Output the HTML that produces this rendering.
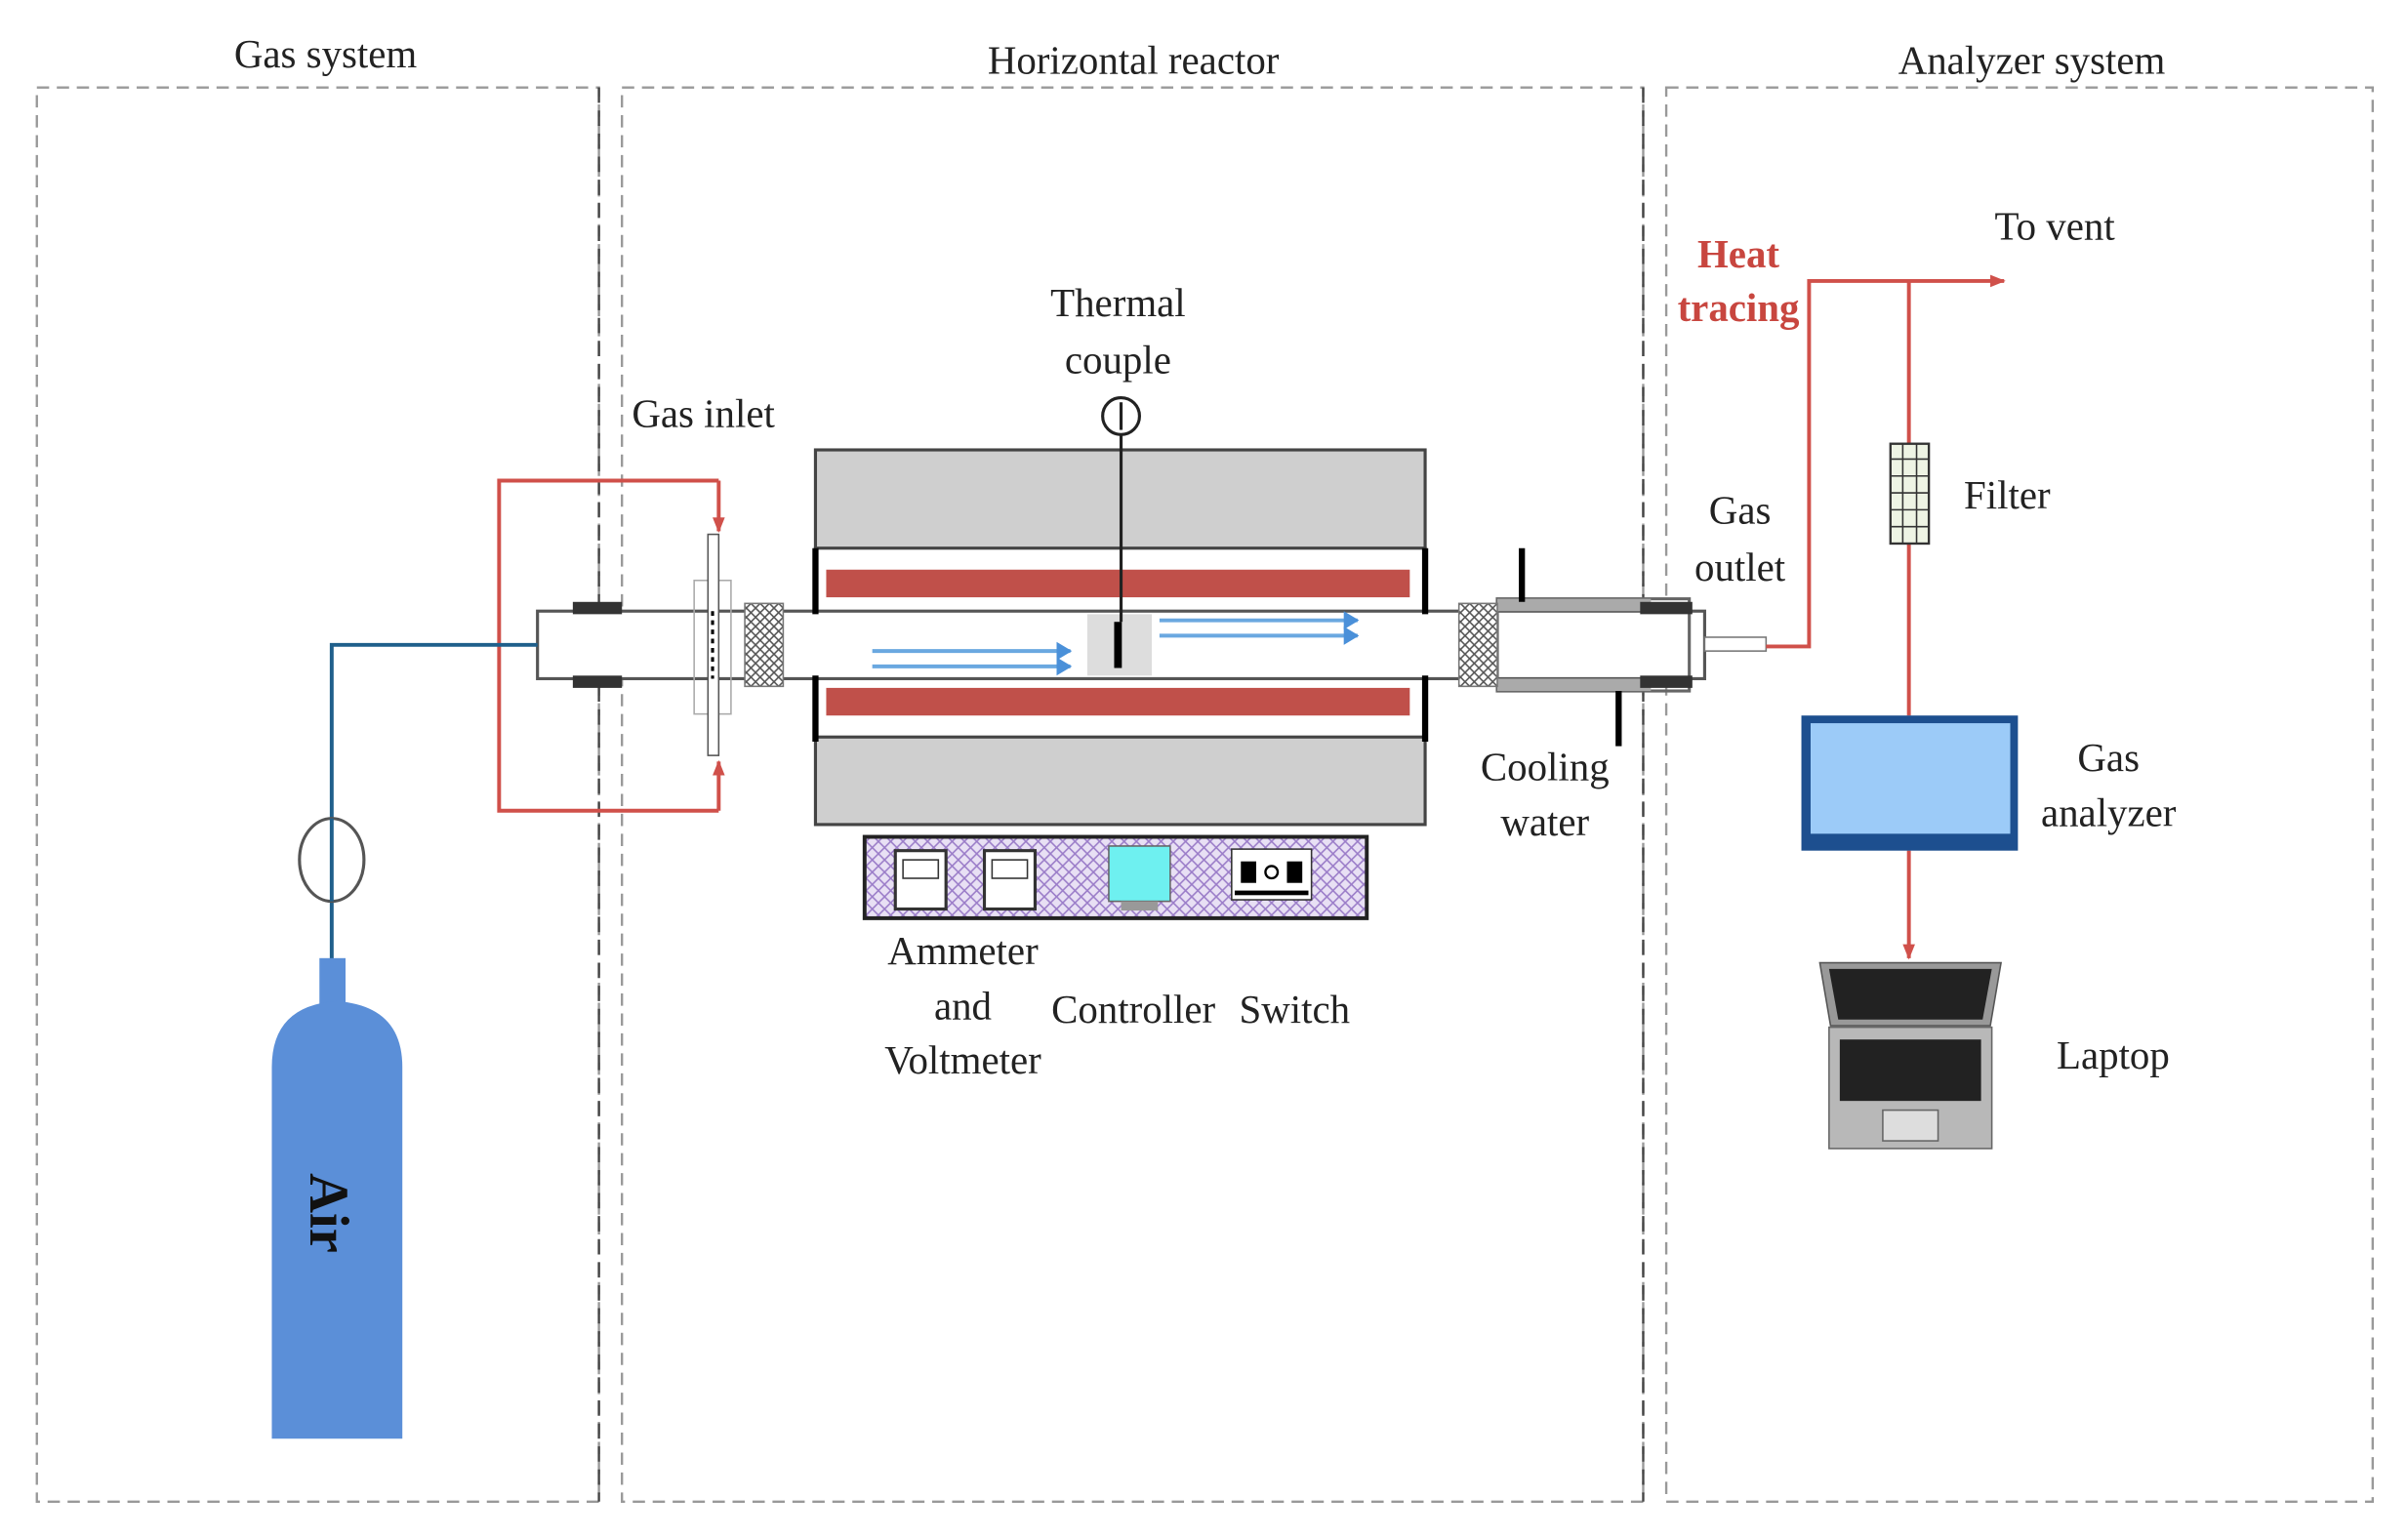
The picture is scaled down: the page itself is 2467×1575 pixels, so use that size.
<!DOCTYPE html>
<html><head><meta charset="utf-8"><style>html,body{margin:0;padding:0;background:#fff}svg{display:block}</style></head><body>
<svg width="2467" height="1575" viewBox="0 0 1568 1001" preserveAspectRatio="none" xmlns="http://www.w3.org/2000/svg" font-family="Liberation Serif, serif" fill="#222">
<defs>
<pattern id="mesh" width="6" height="6" patternUnits="userSpaceOnUse"><rect width="6" height="6" fill="#fff"/><path d="M0 0L6 6M6 0L0 6" stroke="#555" stroke-width="1"/></pattern>
<pattern id="purp" width="8" height="8" patternUnits="userSpaceOnUse"><rect width="8" height="8" fill="#e8e0f4"/><path d="M0 0L8 8M8 0L0 8" stroke="#9a7cc8" stroke-width="1"/></pattern>
<marker id="ar" markerWidth="10" markerHeight="10" refX="9" refY="5" orient="auto" markerUnits="userSpaceOnUse"><path d="M0 1L10 5L0 9z" fill="#d0504a"/></marker>
<marker id="ab" markerWidth="10" markerHeight="12" refX="9" refY="6" orient="auto" markerUnits="userSpaceOnUse"><path d="M0 0L10 6L0 12z" fill="#4a90d9"/></marker>
</defs>
<g fill="none" stroke="#999" stroke-width="1.5" stroke-dasharray="8 5">
<rect x="24" y="57" width="366" height="921"/>
<rect x="405" y="57" width="665" height="921"/>
<rect x="1085" y="57" width="460" height="921"/>
</g>
<line x1="390" y1="57" x2="390" y2="978" stroke="#444" stroke-width="1.5" stroke-dasharray="10 5"/>
<line x1="1070" y1="57" x2="1070" y2="978" stroke="#444" stroke-width="1.5" stroke-dasharray="10 5"/>
<g font-size="26" text-anchor="middle">
<text x="212" y="44">Gas system</text>
<text x="738" y="48">Horizontal  reactor</text>
<text x="1323" y="48">Analyzer system</text>
</g>
<rect x="531" y="293" width="397" height="244" fill="#cfcfcf" stroke="#444" stroke-width="2"/>
<rect x="531" y="357" width="397" height="123" fill="#fff" stroke="#444" stroke-width="2"/>
<rect x="538" y="371" width="380" height="18" fill="#c0504a"/>
<rect x="538" y="448" width="380" height="18" fill="#c0504a"/>
<rect x="350" y="398" width="760" height="44" fill="#fff" stroke="#555" stroke-width="2"/>
<rect x="975" y="390" width="125" height="60" fill="none" stroke="#666" stroke-width="2"/>
<rect x="975" y="390" width="100" height="8" fill="#aaa"/><rect x="975" y="442" width="100" height="8" fill="#aaa"/>
<g stroke="#000" stroke-width="4"><line x1="531" y1="357" x2="531" y2="400"/><line x1="531" y1="440" x2="531" y2="483"/><line x1="928" y1="357" x2="928" y2="400"/><line x1="928" y1="440" x2="928" y2="483"/><line x1="991" y1="357" x2="991" y2="392"/><line x1="1054" y1="450" x2="1054" y2="486"/></g>
<g fill="#333"><rect x="373" y="392" width="32" height="8"/><rect x="373" y="440" width="32" height="8"/><rect x="1068" y="392" width="34" height="8"/><rect x="1068" y="440" width="34" height="8"/></g>
<rect x="485" y="393" width="25" height="54" fill="url(#mesh)" stroke="#777"/>
<rect x="950" y="393" width="25" height="54" fill="url(#mesh)" stroke="#777"/>
<rect x="452" y="378" width="24" height="87" fill="none" stroke="#aaa"/>
<rect x="461" y="348" width="7" height="144" fill="#fff" stroke="#555"/>
<line x1="464" y1="398" x2="464" y2="442" stroke="#000" stroke-width="2" stroke-dasharray="3 3"/>
<rect x="1110" y="415" width="40" height="9" fill="#fff" stroke="#777"/>
<rect x="708" y="400" width="42" height="40" fill="#ddd"/>
<line x1="730" y1="283" x2="730" y2="405" stroke="#222" stroke-width="2"/>
<circle cx="730" cy="271" r="12" fill="#fff" stroke="#222" stroke-width="2"/>
<line x1="730" y1="262" x2="730" y2="280" stroke="#222" stroke-width="2"/>
<path d="M728 405v30" stroke="#000" stroke-width="5"/>
<g stroke="#6aa8e0" stroke-width="2.5" fill="none">
<line x1="568" y1="424" x2="697" y2="424" marker-end="url(#ab)"/><line x1="568" y1="434" x2="697" y2="434" marker-end="url(#ab)"/>
<line x1="755" y1="404" x2="884" y2="404" marker-end="url(#ab)"/><line x1="755" y1="414" x2="884" y2="414" marker-end="url(#ab)"/>
</g>
<g stroke="#d0504a" stroke-width="2.5" fill="none">
<path d="M468 313H325V528H468" /><line x1="468" y1="313" x2="468" y2="346" marker-end="url(#ar)"/><line x1="468" y1="528" x2="468" y2="496" marker-end="url(#ar)"/>
<path d="M1150 421H1178V183H1305" marker-end="url(#ar)"/>
<line x1="1243" y1="183" x2="1243" y2="466"/>
<line x1="1243" y1="554" x2="1243" y2="624" marker-end="url(#ar)"/>
</g>
<path d="M350 420H216V625" stroke="#1f5f8b" stroke-width="2.5" fill="none"/>
<ellipse cx="216" cy="560" rx="21" ry="27" fill="#fff" stroke="#555" stroke-width="2"/>
<line x1="216" y1="533" x2="216" y2="587" stroke="#1f5f8b" stroke-width="2.5"/>
<rect x="208" y="624" width="17" height="32" fill="#5b8fd8"/>
<path d="M177 937V695Q177 655 219 652Q262 655 262 695V937Z" fill="#5b8fd8"/>
<text transform="translate(202,790) rotate(90)" font-size="36" font-weight="bold" text-anchor="middle" fill="#111">Air</text>
<rect x="563" y="545" width="327" height="53" fill="url(#purp)" stroke="#222" stroke-width="2.5"/>
<rect x="583" y="554" width="33" height="38" fill="#fff" stroke="#333" stroke-width="2"/><rect x="588" y="560" width="23" height="12" fill="none" stroke="#333"/>
<rect x="641" y="554" width="33" height="38" fill="#fff" stroke="#333" stroke-width="2"/><rect x="646" y="560" width="23" height="12" fill="none" stroke="#333"/>
<rect x="722" y="551" width="40" height="36" fill="#6ef0f0" stroke="#666"/><rect x="730" y="587" width="24" height="6" fill="#999"/>
<rect x="802" y="553" width="52" height="33" fill="#fff" stroke="#333"/><rect x="808" y="561" width="10" height="14" fill="#000"/><rect x="838" y="561" width="10" height="14" fill="#000"/><circle cx="828" cy="568" r="4" fill="none" stroke="#000" stroke-width="1.5"/><rect x="804" y="580" width="48" height="3" fill="#000"/>
<rect x="1231" y="289" width="25" height="65" fill="#eef4e4" stroke="#333" stroke-width="1.5"/>
<g stroke="#333" stroke-width="1"><line x1="1239" y1="289" x2="1239" y2="354"/><line x1="1248" y1="289" x2="1248" y2="354"/><line x1="1231" y1="299" x2="1256" y2="299"/><line x1="1231" y1="310" x2="1256" y2="310"/><line x1="1231" y1="321" x2="1256" y2="321"/><line x1="1231" y1="332" x2="1256" y2="332"/><line x1="1231" y1="343" x2="1256" y2="343"/></g>
<rect x="1173" y="466" width="141" height="88" fill="#1d4f8f"/>
<rect x="1179" y="471" width="130" height="72" fill="#9ccbf8"/>
<path d="M1185 627H1303L1296 668H1192Z" fill="#999" stroke="#555"/>
<path d="M1191 631H1297L1291 664H1197Z" fill="#222"/>
<rect x="1191" y="669" width="106" height="79" fill="#b8b8b8" stroke="#666"/>
<rect x="1198" y="677" width="92" height="40" fill="#222"/>
<rect x="1226" y="723" width="36" height="20" fill="#ddd" stroke="#666"/>
<g font-size="26" text-anchor="middle">
<text x="458" y="278">Gas inlet</text>
<text x="728" y="206">Thermal</text><text x="728" y="243">couple</text>
<text x="1006" y="508">Cooling</text><text x="1006" y="544">water</text>
<text x="1133" y="341">Gas</text><text x="1133" y="378">outlet</text>
<text x="1338" y="156">To vent</text>
<text x="1307" y="331">Filter</text>
<text x="1373" y="502">Gas</text><text x="1373" y="538">analyzer</text>
<text x="1376" y="696">Laptop</text>
<text x="627" y="628">Ammeter</text><text x="627" y="664">and</text><text x="627" y="699">Voltmeter</text>
<text x="738" y="666">Controller</text><text x="843" y="666">Switch</text>
<g fill="#c8463f" font-weight="bold"><text x="1132" y="174">Heat</text><text x="1132" y="209">tracing</text></g>
</g>
</svg>
</body></html>
